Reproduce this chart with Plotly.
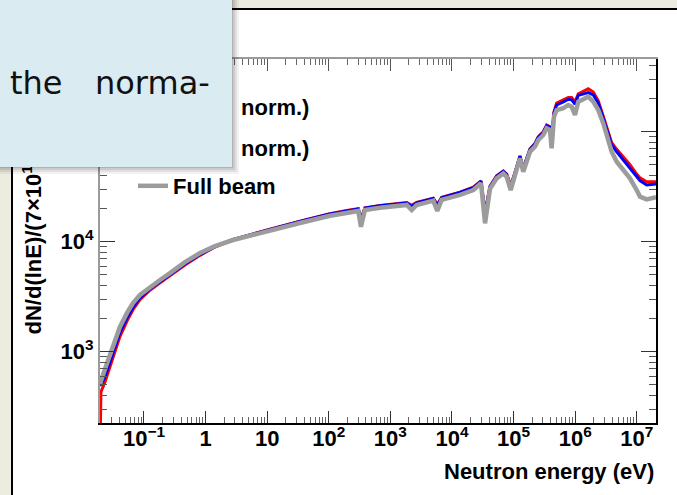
import plotly.graph_objects as go

# ---------------- data ----------------
energy_eV = [0.0193, 0.0200, 0.0233, 0.0281, 0.0338, 0.0407, 0.0530, 0.0663, 0.0861, 0.125,
             0.182, 0.264, 0.463, 0.811, 1.42, 2.79, 9.94, 34.0, 100, 195,
             301, 333, 387, 678, 1840, 2220, 2670, 4970, 5770, 6800,
             13500, 22200, 29600, 34400, 41400, 53200, 68100, 77300, 89800, 105400,
             127000, 143600, 163200, 184600, 222300, 251600, 303400, 344300, 389800, 415000,
             452600, 500500, 640700, 772500, 877400, 993000, 1.123e6, 1.353e6, 1.632e6, 1.967e6,
             2.37e6, 2.86e6, 3.44e6, 3.91e6, 4.72e6, 6.04e6, 7.76e6, 9.96e6, 1.127e7, 1.448e7,
             2.05e7]

full_beam = [498, 542, 697, 953, 1304, 1678, 2251, 2773, 3276, 3873,
             4487, 5188, 6531, 7889, 9141, 10360, 12500, 14790, 17140, 18370,
             19050, 13680, 19410, 20370, 21580, 19410, 21580, 23600, 19050, 23990,
             26610, 29510, 33960, 14690, 30200, 37670, 41690, 38900, 29510, 40360,
             57280, 43250, 55340, 65770, 73110, 84140, 93330, 107200, 103500, 70790,
             136800, 157400, 163300, 175000, 168700, 141900, 187500, 199500, 208000, 187500,
             157400, 119100, 87100, 65770, 53330, 44870, 37670, 29510, 25700, 24270,
             25350]

blue_series = [498, 501, 589, 815, 1114, 1496, 2028, 2541, 3083, 3715,
               4325, 5000, 6281, 7638, 9016, 10470, 12740, 15310, 17780, 19050,
               19860, 15850, 20180, 21230, 22490, 20890, 22490, 24720, 21380, 25120,
               28050, 31050, 35480, 18200, 31620, 39540, 43650, 40930, 31620, 42460,
               59980, 46240, 58210, 69180, 77620, 89130, 98850, 113500, 109600, 83180,
               147900, 175000, 186200, 197200, 195000, 177800, 213800, 221300, 226500, 216300,
               182000, 131800, 94410, 75860, 65770, 55340, 47420, 38900, 35890, 32730,
               33500]

red_series = [120, 431, 532, 741, 1014, 1371, 1901, 2410, 2979, 3622,
              4227, 4898, 6138, 7516, 8954, 10420, 12820, 15380, 17870, 19190,
              19950, 16220, 20320, 21380, 22650, 21380, 22750, 24830, 21880, 25290,
              28180, 31260, 35650, 18620, 31990, 39810, 43950, 41210, 32360, 42660,
              60260, 46770, 58610, 69660, 78160, 89740, 100000, 114800, 110900, 85110,
              151400, 182000, 195000, 204200, 204200, 186200, 221300, 231700, 245500, 229100,
              190500, 138000, 98850, 79430, 69180, 58880, 50120, 41210, 38020, 35080,
              35080]

x_tickvals = [1e-1, 1, 10, 1e2, 1e3, 1e4, 1e5, 1e6, 1e7]
x_ticktext = ["10<sup>\u22121</sup>", "1", "10", "10<sup>2</sup>", "10<sup>3</sup>",
              "10<sup>4</sup>", "10<sup>5</sup>", "10<sup>6</sup>", "10<sup>7</sup>"]
y_tickvals = [1e3, 1e4, 1e5]
y_ticktext = ["10<sup>3</sup>", "10<sup>4</sup>", "10<sup>5</sup>"]

x_range_log = [-1.714, 7.312]
y_range_log = [2.352, 5.661]

# ---------------- figure ----------------
W, H = 677, 495
L, R, T, B = 100, 21, 59, 72
PW, PH = W - L - R, H - T - B


def px(x):
    return (x - L) / PW


def py(y):
    return (H - B - y) / PH


FONT = "Liberation Sans, Arial, sans-serif"
BOLD22 = dict(family=FONT, size=22, color="black", weight="bold")

fig = go.Figure()
fig.add_trace(go.Scatter(x=energy_eV, y=red_series, mode="lines",
                         line=dict(color="#ff0000", width=3), showlegend=False))
fig.add_trace(go.Scatter(x=energy_eV, y=blue_series, mode="lines",
                         line=dict(color="#0000ff", width=3), showlegend=False))
fig.add_trace(go.Scatter(x=energy_eV, y=full_beam, mode="lines", name="Full beam",
                         line=dict(color="#9c9c9c", width=4.5), showlegend=True))
# empty trace so that the mirrored (top / right) frame axes get drawn
fig.add_trace(go.Scatter(x=[], y=[], xaxis="x2", yaxis="y2", showlegend=False,
                         hoverinfo="skip"))

minor_x = [m * 10.0 ** d for d in range(-2, 8) for m in range(2, 10)]
minor_y = [m * 10.0 ** d for d in range(2, 6) for m in range(2, 10)]

common_x = dict(type="log", range=x_range_log, showgrid=False, zeroline=False,
                ticks="inside", ticklen=12, tickwidth=1, tickvals=x_tickvals,
                minor=dict(ticks="inside", ticklen=6, tickwidth=1, tickcolor="#666666",
                           tickvals=minor_x, showgrid=False))
common_y = dict(type="log", range=y_range_log, showgrid=False, zeroline=False,
                ticks="inside", ticklen=15, tickwidth=1, tickvals=y_tickvals,
                minor=dict(ticks="inside", ticklen=7, tickwidth=1, tickcolor="#555555",
                           tickvals=minor_y, showgrid=False))

fig.update_layout(
    width=W, height=H,
    margin=dict(l=L, r=R, t=T, b=B, pad=0),
    paper_bgcolor="white", plot_bgcolor="white",
    font=dict(family=FONT, size=22, color="black"),
    xaxis=dict(**common_x, side="bottom", anchor="y", showline=True, linecolor="black",
               linewidth=2, tickcolor="#333333", ticktext=x_ticktext,
               ticklabelstandoff=-5, tickfont=dict(**BOLD22)),
    xaxis2=dict(**common_x, side="top", overlaying="x", anchor="y2", matches="x",
                showline=True, linecolor="#9a9a9a", linewidth=2, tickcolor="#555555",
                showticklabels=False),
    yaxis=dict(**common_y, side="left", anchor="x", showline=True, linecolor="#9a9a9a",
               linewidth=2, tickcolor="#333333", ticktext=y_ticktext,
               tickfont=dict(**BOLD22)),
    yaxis2=dict(**common_y, side="right", overlaying="y", anchor="x2", matches="y",
                showline=True, linecolor="black", linewidth=2, tickcolor="#333333",
                showticklabels=False),
    legend=dict(x=px(133), y=py(165), xanchor="left", yanchor="top",
                bgcolor="rgba(0,0,0,0)", borderwidth=0,
                font=dict(**BOLD22), itemwidth=30, tracegroupgap=0),
    hovermode=False,
)

BEIGE = "#ecede0"
shapes = [
    # page background strips around the figure
    dict(type="rect", xref="paper", yref="paper", x0=px(0), x1=px(W), y0=py(0), y1=py(9),
         fillcolor=BEIGE, line_width=0, layer="above"),
    dict(type="rect", xref="paper", yref="paper", x0=px(0), x1=px(11), y0=py(0), y1=py(H),
         fillcolor=BEIGE, line_width=0, layer="above"),
    dict(type="line", xref="paper", yref="paper", x0=px(12), x1=px(12), y0=py(8), y1=py(H),
         line=dict(color="black", width=2), layer="above"),
    dict(type="line", xref="paper", yref="paper", x0=px(11), x1=px(W), y0=py(9), y1=py(9),
         line=dict(color="black", width=2), layer="above"),
]
# soft shadow of the pop-up box
for d, a in [(7, 0.05), (5, 0.07), (3, 0.09), (1, 0.12)]:
    shapes.append(dict(type="rect", xref="paper", yref="paper", x0=px(0), x1=px(232 + d),
                       y0=py(0), y1=py(167 + d), fillcolor=f"rgba(0,0,0,{a})",
                       line_width=0, layer="above"))
fig.update_layout(shapes=shapes)

annotations = [
    dict(text="Neutron energy (eV)", xref="paper", yref="paper", x=px(656), y=py(471),
         xanchor="right", yanchor="middle", showarrow=False, font=dict(**BOLD22)),
    dict(text="dN/d(lnE)/(7\u00d710<sup>12</sup> protons)", xref="paper", yref="paper",
         x=px(31), y=py(337), xanchor="center", yanchor="bottom", textangle=-90,
         showarrow=False, font=dict(**BOLD22)),
    dict(text="norm.)", xref="paper", yref="paper", x=px(311), y=py(108),
         xanchor="right", yanchor="middle", showarrow=False, font=dict(**BOLD22)),
    dict(text="norm.)", xref="paper", yref="paper", x=px(311), y=py(148),
         xanchor="right", yanchor="middle", showarrow=False, font=dict(**BOLD22)),
    # pop-up box
    dict(text=" ", xref="paper", yref="paper", x=px(0), y=py(0), xanchor="left",
         yanchor="top", width=232, height=167, bgcolor="#daebf2", borderpad=0,
         borderwidth=0, showarrow=False),
    dict(text="the", xref="paper", yref="paper", x=px(8), y=py(83), xanchor="left",
         yanchor="middle", showarrow=False,
         font=dict(family="DejaVu Sans", size=32, color="#111111")),
    dict(text="norma-", xref="paper", yref="paper", x=px(93), y=py(83), xanchor="left",
         yanchor="middle", showarrow=False,
         font=dict(family="DejaVu Sans", size=32, color="#111111")),
]
fig.update_layout(annotations=annotations)

fig.write_html("out.html")
